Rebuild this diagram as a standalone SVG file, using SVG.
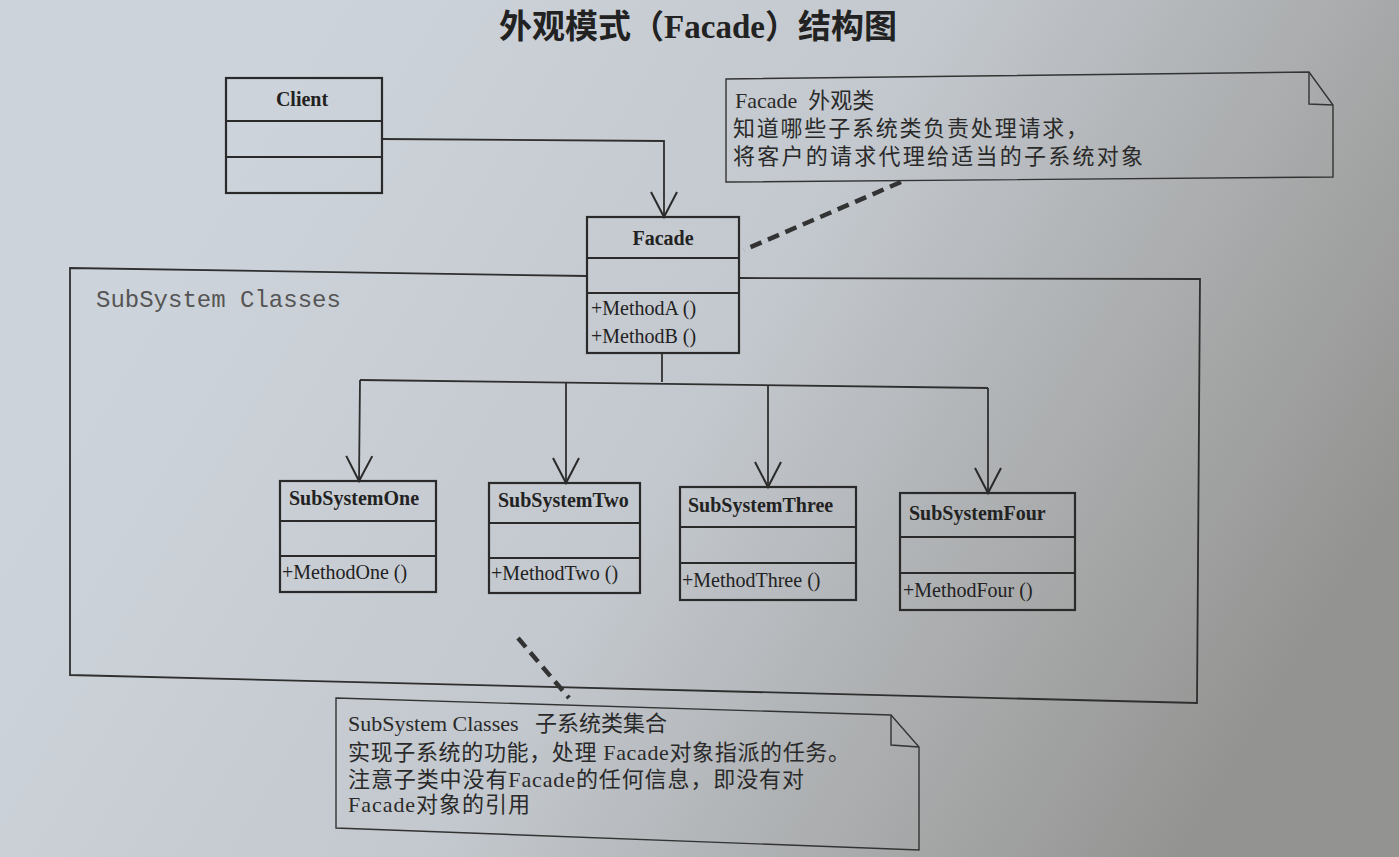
<svg xmlns="http://www.w3.org/2000/svg" width="1399" height="857" viewBox="0 0 1399 857">
<defs>
<linearGradient id="paper" gradientUnits="userSpaceOnUse" x1="250" y1="150" x2="1250" y2="750">
<stop offset="0" stop-color="#cdd3da"/>
<stop offset="0.45" stop-color="#c3c8ce"/>
<stop offset="0.75" stop-color="#a9abac"/>
<stop offset="1" stop-color="#939391"/>
</linearGradient>
<marker id="open" markerUnits="userSpaceOnUse" markerWidth="30" markerHeight="30" viewBox="-27 -15 30 30" refX="0" refY="0" orient="auto" overflow="visible">
<path d="M-25,-13 L0,0 L-25,13" fill="none" stroke="#2a2a2a" stroke-width="2"/>
</marker>
</defs>
<style>
.box{fill:none;stroke:#2a2a2a;stroke-width:2.2}
.div{stroke:#2a2a2a;stroke-width:2.2}
.line{fill:none;stroke:#2f2f2f;stroke-width:1.8}
.dash{fill:none;stroke:#333;stroke-width:4.5;stroke-dasharray:12 7}
.note{fill:none;stroke:#333;stroke-width:1.4}
.name{font-family:"Liberation Serif","Noto Sans CJK SC",serif;font-weight:bold;font-size:20px;fill:#222}
.meth{font-family:"Liberation Serif","Noto Sans CJK SC",serif;font-size:20px;fill:#222}
.ntxt{font-family:"Liberation Serif","Noto Sans CJK SC",serif;font-size:22px;fill:#2a2a2a;white-space:pre}
.title{font-family:"Liberation Serif","Noto Sans CJK SC",serif;font-weight:bold;font-size:33px;fill:#222}
</style>
<rect x="0" y="0" width="1399" height="857" fill="url(#paper)"/>

<text class="title" x="698" y="38" text-anchor="middle">外观模式（Facade）结构图</text>

<g id="subsystem-frame">
<path class="line" d="M587,276 L70,268 L70,675 L1197,703 L1200,279 L739,278"/>
<text x="96" y="307" font-family="Liberation Mono, monospace" font-size="24" fill="#555">SubSystem Classes</text>
</g>

<g id="connectors">
<path class="line" d="M382,139 L664,141 L664,217" marker-end="url(#open)"/>
<path class="line" d="M662,353 L662,382"/>
<path class="line" d="M360,380 L988,388"/>
<path class="line" d="M360,380 L359,481" marker-end="url(#open)"/>
<path class="line" d="M566,382 L566,483" marker-end="url(#open)"/>
<path class="line" d="M768,385 L768,487" marker-end="url(#open)"/>
<path class="line" d="M988,388 L988,493" marker-end="url(#open)"/>
<path class="dash" d="M901,182 L744,250"/>
<path class="dash" d="M518,638 L569,698"/>
</g>

<g id="client">
<rect class="box" x="226" y="78" width="156" height="115"/>
<line class="div" x1="226" y1="121" x2="382" y2="121"/>
<line class="div" x1="226" y1="157" x2="382" y2="157"/>
<text class="name" x="302" y="106" text-anchor="middle" font-size="22">Client</text>
</g>

<g id="facade">
<rect class="box" x="587" y="217" width="152" height="136"/>
<line class="div" x1="587" y1="258" x2="739" y2="258"/>
<line class="div" x1="587" y1="293" x2="739" y2="293"/>
<text class="name" x="663" y="245" text-anchor="middle">Facade</text>
<text class="meth" x="591" y="315">+MethodA ()</text>
<text class="meth" x="591" y="343">+MethodB ()</text>
</g>

<g id="subsystem-one">
<rect class="box" x="280" y="481" width="156" height="111"/>
<line class="div" x1="280" y1="521" x2="436" y2="521"/>
<line class="div" x1="280" y1="556" x2="436" y2="556"/>
<text class="name" x="289" y="505">SubSystemOne</text>
<text class="meth" x="282" y="579">+MethodOne ()</text>
</g>

<g id="subsystem-two">
<rect class="box" x="489" y="483" width="151" height="110"/>
<line class="div" x1="489" y1="523" x2="640" y2="523"/>
<line class="div" x1="489" y1="558" x2="640" y2="558"/>
<text class="name" x="498" y="507">SubSystemTwo</text>
<text class="meth" x="491" y="580">+MethodTwo ()</text>
</g>

<g id="subsystem-three">
<rect class="box" x="680" y="487" width="176" height="113"/>
<line class="div" x1="680" y1="527" x2="856" y2="527"/>
<line class="div" x1="680" y1="563" x2="856" y2="563"/>
<text class="name" x="688" y="512">SubSystemThree</text>
<text class="meth" x="682" y="587">+MethodThree ()</text>
</g>

<g id="subsystem-four">
<rect class="box" x="900" y="493" width="175" height="117"/>
<line class="div" x1="900" y1="537" x2="1075" y2="537"/>
<line class="div" x1="900" y1="573" x2="1075" y2="573"/>
<text class="name" x="909" y="520">SubSystemFour</text>
<text class="meth" x="903" y="597">+MethodFour ()</text>
</g>

<g id="note-facade">
<path class="note" d="M726,79 L1309,72 L1333,105 L1333,177 L726,182 Z"/>
<path class="note" d="M1309,72 L1309,104 L1333,105"/>
<text class="ntxt" x="735" y="108">Facade  外观类</text>
<text class="ntxt" x="733" y="136" textLength="355" lengthAdjust="spacing">知道哪些子系统类负责处理请求，</text>
<text class="ntxt" x="733" y="164" textLength="410" lengthAdjust="spacing">将客户的请求代理给适当的子系统对象</text>
</g>

<g id="note-subsystem">
<path class="note" d="M336,698 L891,715 L919,747 L919,850 L336,828 Z"/>
<path class="note" d="M891,715 L891,745 L919,747"/>
<text class="ntxt" x="348" y="731">SubSystem Classes   子系统类集合</text>
<text class="ntxt" x="348" y="760" textLength="502" lengthAdjust="spacing">实现子系统的功能，处理 Facade对象指派的任务。</text>
<text class="ntxt" x="348" y="787" textLength="456" lengthAdjust="spacing">注意子类中没有Facade的任何信息，即没有对</text>
<text class="ntxt" x="348" y="812" textLength="182" lengthAdjust="spacing">Facade对象的引用</text>
</g>
</svg>
